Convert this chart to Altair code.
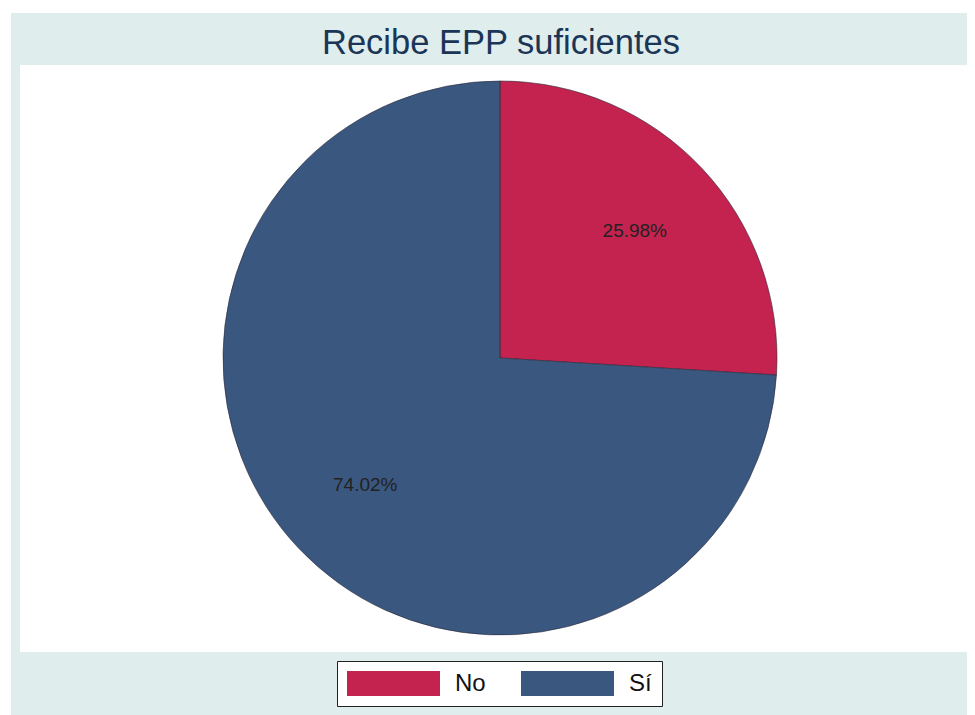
import altair as alt
import pandas as pd

categories = ["No", "Sí"]
percentages = [25.98, 74.02]
colors = ["#c42350", "#3a577f"]
title_text = "Recibe EPP suficientes"

df = pd.DataFrame({
    "cat": categories,
    "pct": percentages,
    "idx": list(range(len(categories))),
    "label": [f"{p:.2f}%" for p in percentages],
})

FONT = "Liberation Sans"
W, H = 959, 707
CX, CY, R = 492, 350, 277

teal = alt.Chart(alt.Data(values=[{}])).mark_rect(color="#dfeded").encode(
    x=alt.value(3), x2=alt.value(W), y=alt.value(5), y2=alt.value(H)
)
white = alt.Chart(alt.Data(values=[{}])).mark_rect(color="white").encode(
    x=alt.value(12), x2=alt.value(W), y=alt.value(57), y2=alt.value(644)
)
title = alt.Chart(alt.Data(values=[{"t": title_text}])).mark_text(
    font=FONT, fontSize=34.5, color="#1b3557", baseline="alphabetic", align="center"
).encode(text="t:N", x=alt.value(493), y=alt.value(46))

base = alt.Chart(df)

pie = base.mark_arc(outerRadius=R, stroke="#2a2a3a", strokeWidth=0.6).encode(
    theta=alt.Theta("pct:Q", stack=True),
    order=alt.Order("idx:Q"),
    color=alt.Color(
        "cat:N",
        scale=alt.Scale(domain=categories, range=colors),
        sort=categories,
        legend=alt.Legend(
            orient="none", legendX=329, legendY=653, direction="horizontal",
            title=None, columns=2,
            symbolType="M-3.72,-1L3.72,-1L3.72,1L-3.72,1Z",
            symbolSize=625, symbolStrokeWidth=0, symbolOpacity=1,
            symbolOffset=34,
            labelFont=FONT, labelFontSize=24, labelColor="#111111",
            labelOffset=49, columnPadding=35, padding=10,
            strokeColor="#222222", fillColor="white",
        ),
    ),
    x=alt.value(CX), y=alt.value(CY),
)

labels = base.mark_text(radius=185, font=FONT, fontSize=19, color="#222222").encode(
    theta=alt.Theta("pct:Q", stack=True),
    order=alt.Order("idx:Q"),
    text="label:N",
    x=alt.value(CX), y=alt.value(CY),
)

chart = alt.layer(teal, white, title, pie, labels).properties(
    width=W, height=H, padding=0, autosize=alt.AutoSizeParams(type="none"),
    background="white",
).configure_view(strokeWidth=0)

chart.save("out.html", embed_options={"renderer": "svg", "actions": False})
